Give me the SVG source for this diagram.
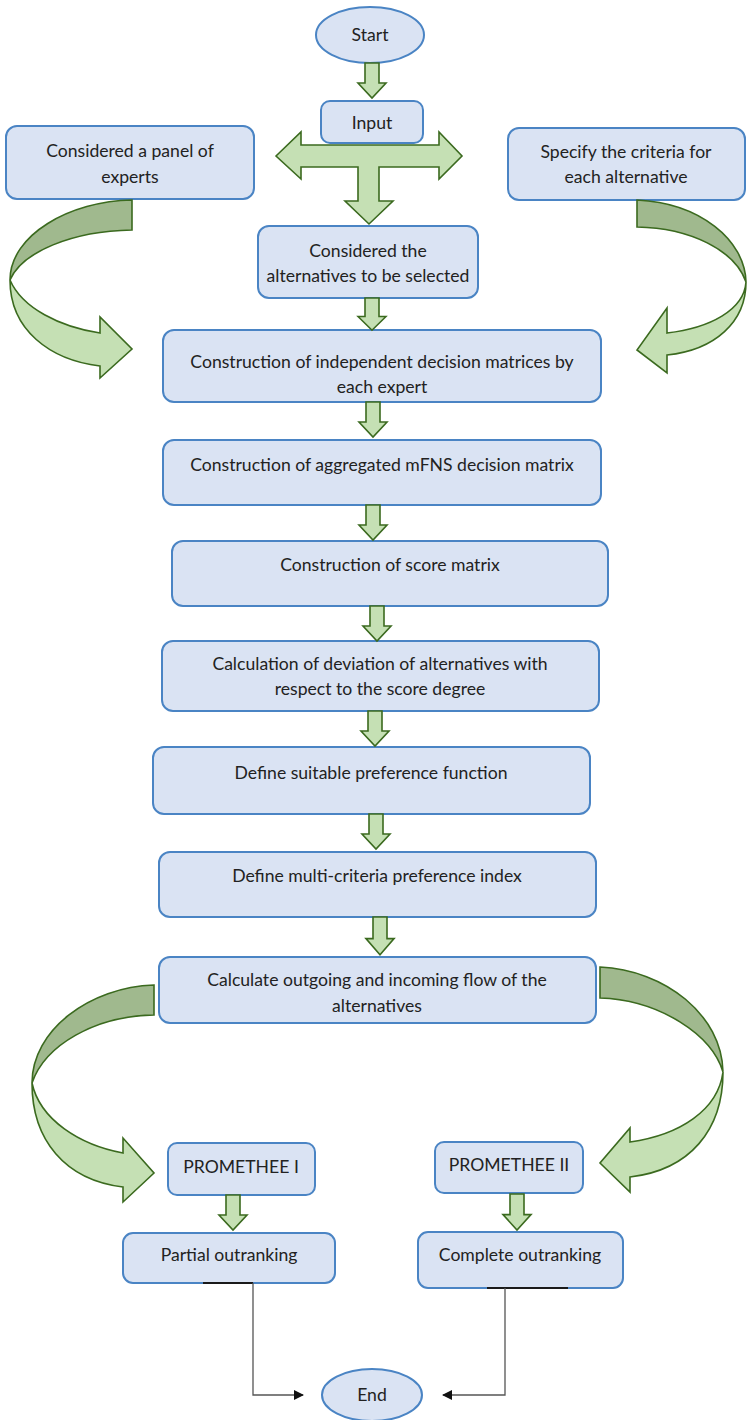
<svg xmlns="http://www.w3.org/2000/svg" width="749" height="1420" viewBox="0 0 749 1420">
  <style>
    .box { fill: #dae3f3; stroke: #4a84c4; stroke-width: 2; }
    .lbl { font-family: "Lato", "Open Sans", sans-serif; font-size: 17.6px; fill: #222; text-anchor: middle; }
    .blk { fill: #c5e0b4; stroke: #3b6a1f; stroke-width: 1.6; stroke-linejoin: miter; }
    .back { fill: #a0b98e; stroke: #3b6a1f; stroke-width: 1.6; }
    .front { fill: #c5e0b4; stroke: #3b6a1f; stroke-width: 1.6; }
    .conn { fill: none; stroke: #555; stroke-width: 1.3; }
  </style>
  <defs>
    <!-- block arrow pointing down, 35 units tall -->
    <path id="dn" d="M-7,0 H7 V20 H14 L0,35 L-14,20 H-7 Z"/>
    <marker id="tri" markerWidth="10" markerHeight="10" refX="9" refY="5" orient="auto" markerUnits="userSpaceOnUse">
      <path d="M0,0 L10,5 L0,10 Z" fill="#111"/>
    </marker>
  </defs>
  <rect width="749" height="1420" fill="#fff"/>

  <!-- nodes -->
  <g id="start">
    <ellipse class="box" cx="370" cy="35" rx="54" ry="28"/>
    <text class="lbl" x="370" y="41">Start</text>
  </g>
  <g id="input">
    <rect class="box" x="321" y="101" width="102" height="42" rx="9"/>
    <text class="lbl" x="372" y="129">Input</text>
  </g>
  <g id="panel">
    <rect class="box" x="6" y="126" width="248" height="73" rx="11"/>
    <text class="lbl" x="130" y="157">Considered a panel of</text>
    <text class="lbl" x="130" y="183">experts</text>
  </g>
  <g id="criteria">
    <rect class="box" x="508" y="128" width="237" height="72" rx="11"/>
    <text class="lbl" x="626" y="158">Specify the criteria for</text>
    <text class="lbl" x="626" y="183">each alternative</text>
  </g>
  <g id="alternatives">
    <rect class="box" x="258" y="226" width="220" height="72" rx="11"/>
    <text class="lbl" x="368" y="257">Considered the</text>
    <text class="lbl" x="368" y="282">alternatives to be selected</text>
  </g>
  <g id="independent">
    <rect class="box" x="163" y="330" width="438" height="72" rx="11"/>
    <text class="lbl" x="382" y="368">Construction of independent decision matrices by</text>
    <text class="lbl" x="382" y="393">each expert</text>
  </g>
  <g id="aggregated">
    <rect class="box" x="163" y="440" width="438" height="65" rx="11"/>
    <text class="lbl" x="382" y="471">Construction of aggregated mFNS decision matrix</text>
  </g>
  <g id="score">
    <rect class="box" x="172" y="541" width="436" height="65" rx="11"/>
    <text class="lbl" x="390" y="571">Construction of score matrix</text>
  </g>
  <g id="deviation">
    <rect class="box" x="162" y="641" width="437" height="70" rx="11"/>
    <text class="lbl" x="380" y="670">Calculation of deviation of alternatives with</text>
    <text class="lbl" x="380" y="695">respect to the score degree</text>
  </g>
  <g id="preference-function">
    <rect class="box" x="153" y="747" width="437" height="67" rx="11"/>
    <text class="lbl" x="371" y="779">Define suitable preference function</text>
  </g>
  <g id="preference-index">
    <rect class="box" x="159" y="852" width="437" height="65" rx="11"/>
    <text class="lbl" x="377" y="882">Define multi-criteria preference index</text>
  </g>
  <g id="flows">
    <rect class="box" x="159" y="957" width="437" height="66" rx="11"/>
    <text class="lbl" x="377" y="986">Calculate outgoing and incoming flow of the</text>
    <text class="lbl" x="377" y="1012">alternatives</text>
  </g>
  <g id="promethee1">
    <rect class="box" x="168" y="1143" width="147" height="52" rx="9"/>
    <text class="lbl" x="241" y="1173">PROMETHEE I</text>
  </g>
  <g id="promethee2">
    <rect class="box" x="435" y="1142" width="148" height="51" rx="9"/>
    <text class="lbl" x="509" y="1171">PROMETHEE II</text>
  </g>
  <g id="partial">
    <rect class="box" x="123" y="1233" width="212" height="50" rx="10"/>
    <text class="lbl" x="229" y="1261">Partial outranking</text>
  </g>
  <g id="complete">
    <rect class="box" x="418" y="1232" width="205" height="56" rx="10"/>
    <text class="lbl" x="520" y="1261">Complete outranking</text>
  </g>
  <g id="end">
    <ellipse class="box" cx="372" cy="1395" rx="50" ry="26"/>
    <text class="lbl" x="372" y="1401">End</text>
  </g>

  <!-- connectors -->
  <g id="connectors">
    <!-- three-way split below Input -->
    <polygon class="blk" points="276,156 301,132 301,145 439,145 439,132 462,156 439,179 439,167 379,167 379,201 393,201 369,224 345,201 358,201 358,167 301,167 301,179"/>

    <!-- straight block arrows -->
    <use href="#dn" class="blk" transform="translate(372,63)"/>
    <use href="#dn" class="blk" transform="translate(372,298) scale(1,0.92)"/>
    <use href="#dn" class="blk" transform="translate(373,402)"/>
    <use href="#dn" class="blk" transform="translate(373,505)"/>
    <use href="#dn" class="blk" transform="translate(377,606)"/>
    <use href="#dn" class="blk" transform="translate(375,711)"/>
    <use href="#dn" class="blk" transform="translate(376,814)"/>
    <use href="#dn" class="blk" transform="translate(380,917) scale(1,1.08)"/>
    <use href="#dn" class="blk" transform="translate(233,1195)"/>
    <use href="#dn" class="blk" transform="translate(517,1194) scale(1,1.03)"/>

    <!-- curved arrow: panel of experts -> independent matrices -->
    <path class="back" d="M132,200 C70,201 10,235 10,280 C22,252 72,231 132,230 Z"/>
    <path class="front" d="M10,280 C22,308 60,327 100,333 L100,317 L132,349 L100,378 L100,366 C50,360 10,330 10,280 Z"/>

    <!-- curved arrow: criteria -> independent matrices -->
    <path class="back" d="M637,200 C700,203 745,240 746,282 C735,250 690,228 637,227 Z"/>
    <path class="front" d="M746,282 C744,310 710,328 667,333 L667,308 L637,350 L667,373 L667,355 C715,350 746,322 746,282 Z"/>

    <!-- curved arrow: flows -> PROMETHEE I -->
    <path class="back" d="M154,985 C90,987 32,1030 32,1083 C45,1045 95,1016 154,1015 Z"/>
    <path class="front" d="M32,1083 C40,1120 80,1145 123,1153 L123,1138 L154,1173 L123,1202 L123,1187 C65,1180 32,1140 32,1083 Z"/>

    <!-- curved arrow: flows -> PROMETHEE II -->
    <path class="back" d="M600,967 C665,970 722,1015 723,1072 C712,1035 660,1000 600,998 Z"/>
    <path class="front" d="M723,1072 C718,1110 680,1135 630,1142 L630,1128 L600,1163 L630,1192 L630,1177 C690,1170 723,1130 723,1072 Z"/>

    <!-- elbow lines into End -->
    <line x1="203" y1="1283" x2="253" y2="1283" stroke="#1a1a1a" stroke-width="2"/>
    <line x1="487" y1="1288" x2="568" y2="1288" stroke="#1a1a1a" stroke-width="2"/>
    <path class="conn" d="M253,1283 V1395 H303" marker-end="url(#tri)"/>
    <path class="conn" d="M505,1288 V1395 H443" marker-end="url(#tri)"/>
  </g>
</svg>
